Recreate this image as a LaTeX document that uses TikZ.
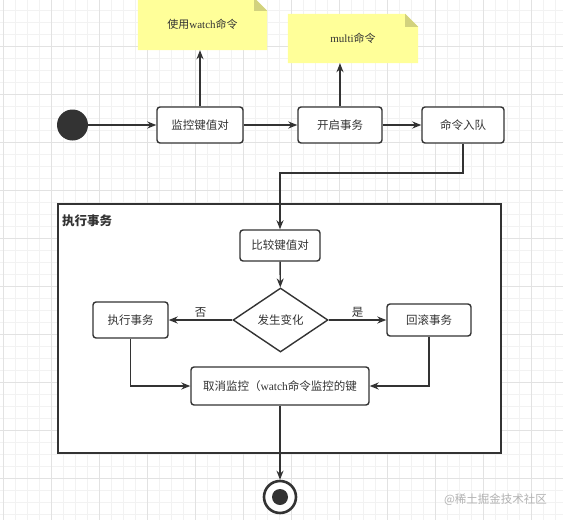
\documentclass[tikz,border=0pt]{standalone}
\usepackage{fontspec}
\setmainfont{Liberation Serif}
\newfontfamily\cjk{Noto Sans CJK SC}
\usetikzlibrary{shapes.geometric,arrows.meta}
\pgfdeclarelayer{gridlayer}
\pgfdeclarelayer{bglayer}
\pgfsetlayers{gridlayer,bglayer,main}
\definecolor{ink}{HTML}{333333}
\definecolor{notefill}{HTML}{FFFF99}
\definecolor{notefold}{HTML}{D2D27E}
\definecolor{gridminor}{HTML}{F2F2F2}
\definecolor{gridmajor}{HTML}{E2E2E2}
\tikzset{
  box/.style={draw=ink, line width=1.4pt, rounded corners=3pt, fill=white, inner sep=0pt,
    text=ink, font=\fontsize{11.5}{13}\selectfont\cjk},
  notenode/.style={inner sep=0pt, text=ink, font=\fontsize{11}{13}\selectfont},
  conn/.style={draw=ink, line width=1.4pt, -{Stealth[length=9pt,width=7pt]}},
  lbl/.style={text=ink, font=\fontsize{11.5}{13}\selectfont\cjk, inner sep=2pt}
}
\begin{document}
\begin{tikzpicture}[x=1pt,y=-1pt]
\useasboundingbox (0,0) rectangle (563,520);
\begin{pgfonlayer}{gridlayer}
  \fill[white] (0,0) rectangle (563,520);
  \foreach \i in {0,...,47} {
    \draw[gridminor, line width=0.8pt] ({3+12*\i},0) -- ({3+12*\i},520);
  }
  \foreach \i in {0,...,43} {
    \draw[gridminor, line width=0.8pt] (0,{10+12*\i}) -- (563,{10+12*\i});
  }
  \foreach \i in {0,...,11} {
    \draw[gridmajor, line width=0.8pt] ({3+48*\i},0) -- ({3+48*\i},520);
  }
  \foreach \i in {0,...,11} {
    \draw[gridmajor, line width=0.8pt] (0,{-2+48*\i}) -- (563,{-2+48*\i});
  }
\end{pgfonlayer}

% notes
\node[notenode, minimum width=129pt, minimum height=52pt] (n1) at (202.5,24) {{\cjk 使用}watch{\cjk 命令}};
\node[notenode, minimum width=130pt, minimum height=49pt] (n2) at (353,38.5) {multi{\cjk 命令}};
\begin{pgfonlayer}{bglayer}
  \foreach \n in {n1,n2} {
    \fill[notefill] (\n.south west) -- (\n.north west) -- ([xshift=-13pt]\n.north east)
      -- ([yshift=-13pt]\n.north east) -- (\n.south east) -- cycle;
    \fill[notefold] ([xshift=-13pt]\n.north east) -- ([xshift=-13pt,yshift=-13pt]\n.north east)
      -- ([yshift=-13pt]\n.north east) -- cycle;
  }
\end{pgfonlayer}

% top row
\node[circle, fill=ink, minimum size=31pt, inner sep=0pt] (start) at (72.5,125) {};
\node[box, minimum width=86pt, minimum height=36pt] (b1) at (200,125) {监控键值对};
\node[box, minimum width=84pt, minimum height=36pt] (b2) at (340,125) {开启事务};
\node[box, minimum width=82pt, minimum height=36pt] (b3) at (463,125) {命令入队};

\draw[conn] (start) -- (b1);
\draw[conn] (b1) -- (b2);
\draw[conn] (b2) -- (b3);
\draw[conn] (b1.north) -- (b1.north |- n1.south);
\draw[conn] (b2.north) -- (b2.north |- n2.south);

% frame
\node[draw=ink, line width=1.8pt, fill=white, minimum width=443pt, minimum height=249pt, inner sep=0pt] (frame) at (279.5,328.5) {};
\node[anchor=west, inner sep=0pt, text=ink, font=\fontsize{12.5}{14}\selectfont\cjk\bfseries] (ftitle) at (62,221) {执行事务};

\node[box, minimum width=80pt, minimum height=31pt] (cmp) at (280,245.5) {比较键值对};
\node[diamond, draw=ink, line width=1.4pt, fill=white, minimum width=95pt, minimum height=64pt, inner sep=0pt,
  text=ink, font=\fontsize{11.5}{13}\selectfont\cjk] (dia) at (280.5,320) {发生变化};
\node[box, minimum width=75pt, minimum height=36pt] (exec) at (130.5,320) {执行事务};
\node[box, minimum width=84pt, minimum height=32pt] (roll) at (429,320) {回滚事务};
\node[box, minimum width=178pt, minimum height=38pt] (cancel) at (280,386) {取消监控（{\rmfamily watch}命令监控的键};

\coordinate (j) at (280,173);
\draw[conn] (b3.south) |- (j) -- (cmp.north);
\draw[conn] (cmp) -- (dia);
\draw[conn] (dia.west) -- node[lbl, above] {否} (exec.east);
\draw[conn] (dia.east) -- node[lbl, above] {是} (roll.west);
\draw[conn] (exec.south) |- (cancel.west);
\draw[conn] (roll.south) |- (cancel.east);

% end
\node[circle, draw=ink, line width=2.6pt, fill=white, minimum size=32pt, inner sep=0pt] (end) at (280,497) {};
\node[circle, fill=ink, minimum size=16pt, inner sep=0pt] (endin) at (end.center) {};
\draw[conn] (cancel.south) -- (end.north);

\node[text=black!30, font=\fontsize{11.5}{13}\selectfont\cjk, inner sep=0pt] (wm) at (495.5,500) {@稀土掘金技术社区};
\end{tikzpicture}
\end{document}
